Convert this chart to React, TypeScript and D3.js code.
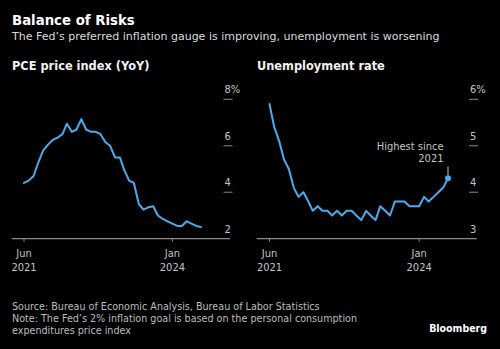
import React from "react";
import * as d3 from "d3";

const months = [
  "2021-06","2021-07","2021-08","2021-09","2021-10","2021-11","2021-12",
  "2022-01","2022-02","2022-03","2022-04","2022-05","2022-06","2022-07","2022-08","2022-09","2022-10","2022-11","2022-12",
  "2023-01","2023-02","2023-03","2023-04","2023-05","2023-06","2023-07","2023-08","2023-09","2023-10","2023-11","2023-12",
  "2024-01","2024-02","2024-03","2024-04","2024-05","2024-06","2024-07",
];

const pceValues = [
  4.4, 4.5, 4.7, 5.3, 5.8, 6.05, 6.25,
  6.35, 6.5, 6.95, 6.6, 6.7, 7.15, 6.7, 6.6, 6.6, 6.5, 6.15, 6.0,
  5.5, 5.5, 4.95, 4.5, 4.4, 3.5, 3.25, 3.35, 3.4, 3.0, 2.85, 2.75,
  2.65, 2.55, 2.55, 2.75, 2.65, 2.55, 2.5,
];

const unemploymentValues = [
  5.9, 5.4, 5.1, 4.7, 4.5, 4.1, 3.9,
  4.0, 3.8, 3.6, 3.7, 3.6, 3.6, 3.5, 3.6, 3.5, 3.6, 3.6, 3.5,
  3.4, 3.6, 3.5, 3.4, 3.7, 3.6, 3.5, 3.8, 3.8, 3.8, 3.7, 3.7,
  3.7, 3.9, 3.8, 3.9, 4.0, 4.1, 4.3,
];

const xTickMonths = ["2021-06", "2024-01"];
const xTickLabels = [["Jun", "2021"], ["Jan", "2024"]];
const pceTicks = [2, 4, 6, 8];
const unempTicks = [3, 4, 5, 6];

const title = "Balance of Risks";
const subtitle = "The Fed\u2019s preferred inflation gauge is improving, unemployment is worsening";
const panelTitles = ["PCE price index (YoY)", "Unemployment rate"];
const annotationLines = ["Highest since", "2021"];
const footerLines = [
  "Source: Bureau of Economic Analysis, Bureau of Labor Statistics",
  "Note: The Fed\u2019s 2% inflation goal is based on the personal consumption",
  "expenditures price index",
];

const W = 500;
const H = 349;
const FONT = "'DejaVu Sans', sans-serif";
const FONT_C = "'DejaVu Sans Condensed', 'DejaVu Sans', sans-serif";
const LINE = "#4aabee";
const AXIS = "#8a8a8a";
const LABEL = "#c4c4c4";

const parse = d3.timeParse("%Y-%m");
const dates = months.map((m) => parse(m) as Date);

type PanelProps = {
  values: number[];
  ticks: number[];
  axisX0: number;
  axisX1: number;
  dataX0: number;
  dataX1: number;
  labelX: number;
  title: string;
  titleX: number;
  annotate?: boolean;
};

function Panel({ values, ticks, axisX0, axisX1, dataX0, dataX1, labelX, title, titleX, annotate }: PanelProps) {
  const x = d3.scaleTime().domain([dates[0], dates[dates.length - 1]]).range([dataX0, dataX1]);
  const y = d3.scaleLinear().domain([ticks[0], ticks[ticks.length - 1]]).range([238.7, 99.3]);
  const line = d3
    .line<number>()
    .x((_, i) => x(dates[i]))
    .y((d) => y(d));
  const path = line(values) || "";
  const last = values.length - 1;
  const lx = x(dates[last]);
  const ly = y(values[last]);
  const axisY = y(ticks[0]);
  return (
    <g>
      <text x={titleX} y={70} fill="#f2f2f2" fontSize={11.4} fontWeight="bold" fontFamily={FONT}>
        {title}
      </text>
      {ticks.map((t, i) => (
        <g key={t}>
          {i > 0 && (
            <line x1={labelX - 1} x2={labelX + 8} y1={y(t)} y2={y(t)} stroke={AXIS} strokeWidth={1} />
          )}
          <text x={labelX} y={y(t) - 6} fill={LABEL} fontSize={11} fontFamily={FONT_C} fontStretch="condensed">
            {i === ticks.length - 1 ? `${t}%` : `${t}`}
          </text>
        </g>
      ))}
      <line x1={axisX0} x2={axisX1} y1={axisY} y2={axisY} stroke={AXIS} strokeWidth={1.2} />
      {xTickMonths.map((m, i) => {
        const tx = x(parse(m) as Date);
        return (
          <g key={m}>
            <line x1={tx} x2={tx} y1={axisY} y2={axisY + 3} stroke={AXIS} strokeWidth={1} />
            <text x={tx} y={257.3} textAnchor="middle" fill={LABEL} fontSize={11} fontFamily={FONT_C} fontStretch="condensed">
              {xTickLabels[i][0]}
            </text>
            <text x={tx} y={271.3} textAnchor="middle" fill={LABEL} fontSize={11} fontFamily={FONT_C} fontStretch="condensed">
              {xTickLabels[i][1]}
            </text>
          </g>
        );
      })}
      <path d={path} fill="none" stroke={LINE} strokeWidth={2} strokeLinejoin="round" strokeLinecap="round" />
      {annotate && (
        <g>
          <line x1={lx} x2={lx} y1={ly - 3} y2={166.5} stroke={LABEL} strokeWidth={1} />
          <circle cx={lx} cy={ly} r={3} fill={LINE} />
          {annotationLines.map((t, i) => (
            <text key={t} x={443.5} y={149.5 + i * 12.5} textAnchor="end" fill={LABEL} fontSize={11} fontFamily={FONT_C} fontStretch="condensed">
              {t}
            </text>
          ))}
        </g>
      )}
    </g>
  );
}

export default function App() {
  return (
    <svg width={W} height={H} style={{ position: "absolute", left: 0, top: 0, display: "block" }}>
      <rect x={0} y={0} width={W} height={H} fill="#000" />
      <text x={12} y={25} fill="#ffffff" fontSize={13.3} fontWeight="bold" fontFamily={FONT}>
        {title}
      </text>
      <text x={12} y={39.5} fill="#dcdcdc" fontSize={11} fontFamily={FONT}>
        {subtitle}
      </text>
      <Panel
        values={pceValues}
        ticks={pceTicks}
        axisX0={11.7}
        axisX1={230}
        dataX0={24}
        dataX1={201}
        labelX={224.5}
        title={panelTitles[0]}
        titleX={12}
      />
      <Panel
        values={unemploymentValues}
        ticks={unempTicks}
        axisX0={256.7}
        axisX1={476.7}
        dataX0={269.5}
        dataX1={448}
        labelX={470}
        title={panelTitles[1]}
        titleX={257}
        annotate
      />
      {footerLines.map((t, i) => (
        <text key={i} x={12} y={310 + i * 12} fill="#bdbdbd" fontSize={9.6} fontFamily={FONT}>
          {t}
        </text>
      ))}
      <text x={487} y={331.7} textAnchor="end" fill="#ffffff" fontSize={10.5} fontWeight="bold" fontFamily={FONT_C} fontStretch="condensed">
        Bloomberg
      </text>
    </svg>
  );
}
